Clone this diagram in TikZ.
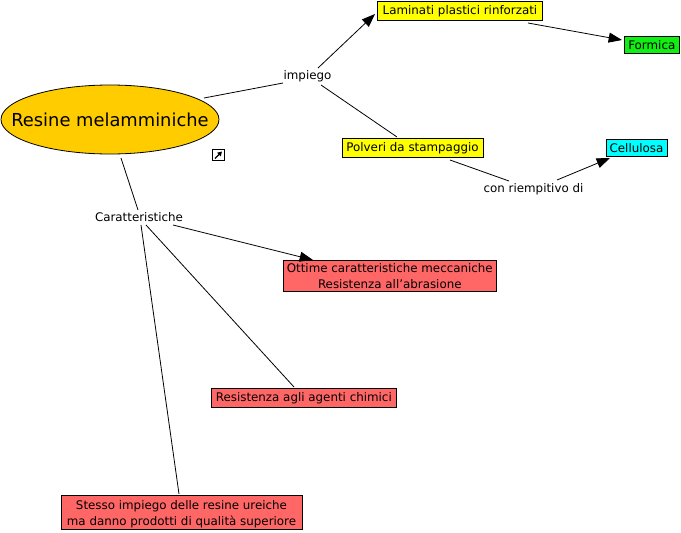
\documentclass[tikz,border=0pt]{standalone}
\usepackage{fontspec}
\setmainfont{DejaVu Sans}
\usetikzlibrary{arrows.meta,shapes.geometric}
\definecolor{orangeF}{HTML}{FFCC00}
\definecolor{yellowF}{HTML}{FFFF00}
\definecolor{greenF}{HTML}{11EE11}
\definecolor{cyanF}{HTML}{00FFFF}
\definecolor{redF}{HTML}{FF6666}
\newcommand\dn[1]{\raisebox{-0.75pt}[\height][\depth]{#1}}
\newcommand\dntwo[2]{\raisebox{-1.5pt}[\height][\depth]{\begin{tabular}{@{}c@{}}#1\\#2\end{tabular}}}
\tikzset{
  px/.style={x=0.75pt,y=-0.75pt},
  concept/.style={draw=black,line width=0.75pt,rectangle,inner sep=0pt,align=center,font=\fontsize{8.9}{11.4}\selectfont},
  label/.style={inner sep=0pt,font=\fontsize{8.9}{10}\selectfont},
  conn/.style={line width=0.6pt,black},
  arr/.style={conn,-{Triangle[length=10pt,width=7.5pt]}}
}
\begin{document}
\begin{tikzpicture}[px]
\useasboundingbox (0,0) rectangle (681,532);
\node[draw=black,line width=0.6pt,ellipse,fill=orangeF,minimum width=163.5pt,minimum height=51.75pt,inner sep=0pt,font=\fontsize{13.4}{16}\selectfont] (res) at (110,119.5) {\makebox[0pt]{\smash{\raisebox{-4.9pt}{Resine melamminiche}}}};
\node[label] (imp) at (307.5,75) {\dn{impiego}};
\node[label] (car) at (139,217) {Caratteristiche};
\node[label] (rie) at (533.5,188) {\dn{con riempitivo di}};
\node[concept,fill=yellowF,minimum width=123.75pt,minimum height=14.25pt] (lam) at (460,10.5) {\dn{Laminati plastici rinforzati}};
\node[concept,fill=greenF,minimum width=41.5pt,minimum height=12.75pt] (for) at (651.8,44.5) {\dn{Formica}};
\node[concept,fill=yellowF,minimum width=105.75pt,minimum height=14.25pt] (pol) at (412.5,147.5) {\dn{Polveri da stampaggio}};
\node[concept,fill=cyanF,minimum width=45.75pt,minimum height=12.75pt] (cel) at (636.5,147.5) {\dn{Cellulosa}};
\node[concept,fill=redF,minimum width=160pt,minimum height=23.25pt] (ott) at (389.8,275.5) {\dntwo{Ottime caratteristiche meccaniche}{Resistenza all'abrasione}};
\node[concept,fill=redF,minimum width=139pt,minimum height=14.25pt] (rag) at (303.8,397.5) {\dn{Resistenza agli agenti chimici}};
\node[concept,fill=redF,minimum width=180.75pt,minimum height=26pt] (ste) at (181.5,512.5) {\dntwo{Stesso impiego delle resine ureiche}{ma danno prodotti di qualità superiore}};
\node[draw=black,line width=0.75pt,fill=white,minimum size=8.5pt,inner sep=0pt] (ico) at (218.5,155) {};
\draw[line width=0.9pt,-{Triangle[length=3.2pt,width=3.6pt]}] ([shift={(-3.5,3.5)}]ico.center) -- ([shift={(3.5,-3.5)}]ico.center);
\draw[conn] ([shift={(94,-21.5)}]res.center) -- ([shift={(-24.5,8)}]imp.center);
\draw[arr] ([shift={(10.5,-7)}]imp.center) -- ([shift={(-85,3.5)}]lam.center);
\draw[conn] ([shift={(13.5,10)}]imp.center) -- ([shift={(-15.5,-10.5)}]pol.center);
\draw[arr] ([shift={(68,12.5)}]lam.center) -- ([shift={(-29.8,-4.5)}]for.center);
\draw[conn] ([shift={(37.5,12.5)}]pol.center) -- ([shift={(-24.5,-7)}]rie.center);
\draw[arr] ([shift={(23.5,-8)}]rie.center) -- ([shift={(-26.5,10.5)}]cel.center);
\draw[conn] ([shift={(11,38.5)}]res.center) -- ([shift={(-1,-7)}]car.center);
\draw[arr] ([shift={(34,8)}]car.center) -- ([shift={(-76.8,-15.5)}]ott.center);
\draw[conn] ([shift={(7,8)}]car.center) -- ([shift={(-9.8,-10.5)}]rag.center);
\draw[conn] ([shift={(2,8)}]car.center) -- ([shift={(-2.5,-18.5)}]ste.center);
\end{tikzpicture}
\end{document}
